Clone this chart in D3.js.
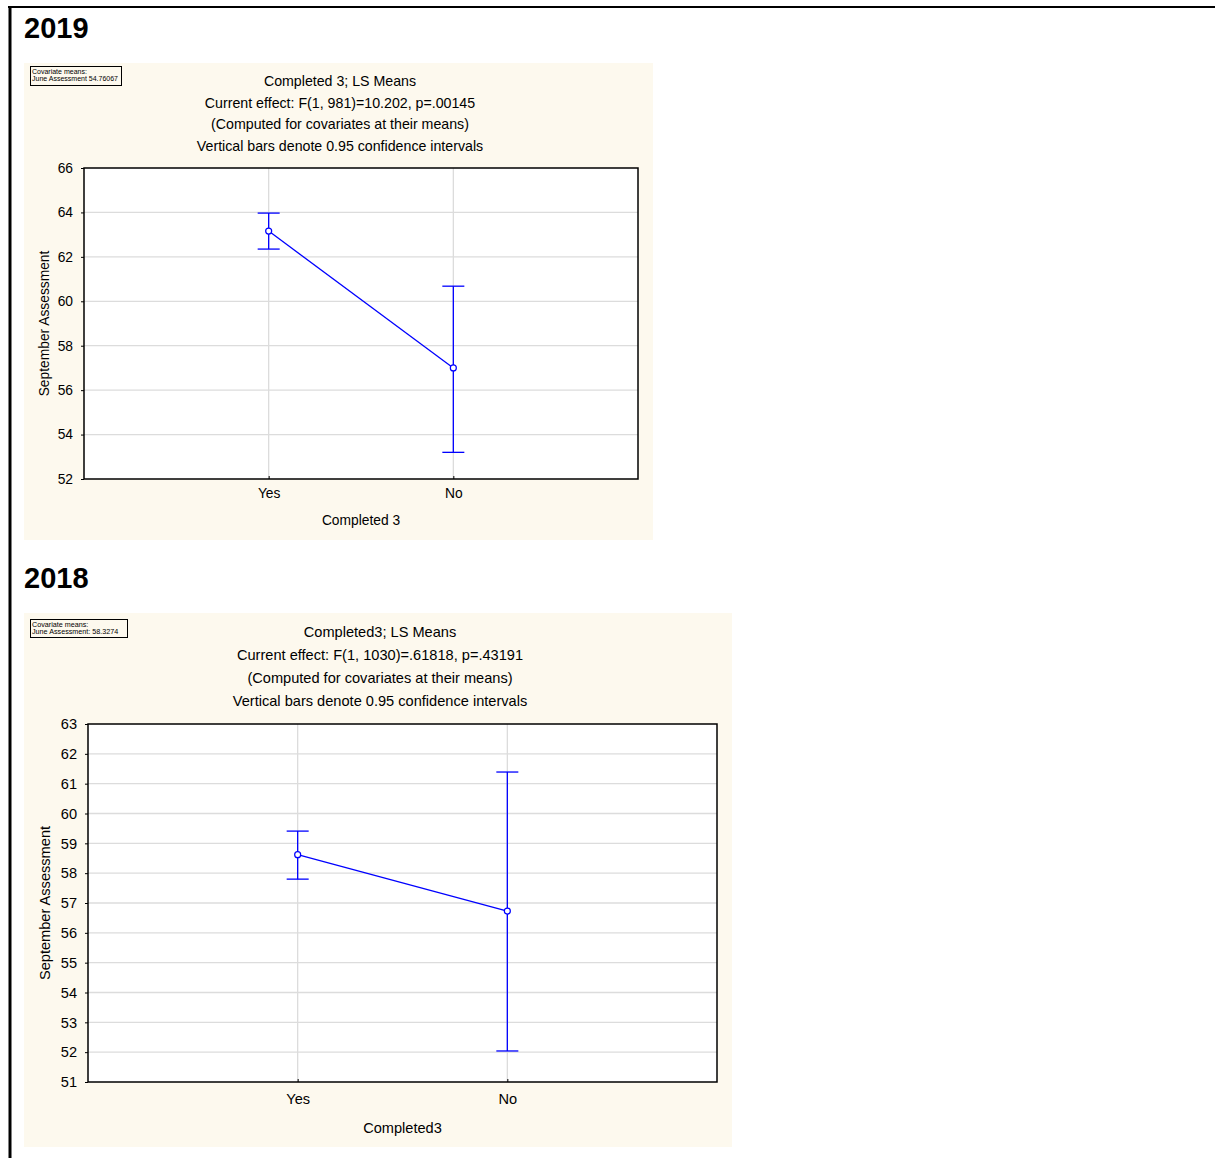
<!DOCTYPE html>
<html>
<head>
<meta charset="utf-8">
<script src="https://cdn.jsdelivr.net/npm/d3@7"></script>
<style>
  body { margin: 0; background: #fff; }
  svg { display: block; font-family: "Liberation Sans", Arial, sans-serif; }
</style>
</head>
<body>
<div id="chart-area"></div>
<script>
// categories shared by both panels
let categories = ["Yes", "No"];

// 2019 LS means and 0.95 CI
let means2019 = [63.16, 57.0];
let lower2019 = [62.35, 53.2];
let upper2019 = [63.97, 60.68];
let yTicks2019 = [52, 54, 56, 58, 60, 62, 64, 66];
let titles2019 = ["Completed 3; LS Means",
    "Current effect: F(1, 981)=10.202, p=.00145",
    "(Computed for covariates at their means)",
    "Vertical bars denote 0.95 confidence intervals"];
let covariate2019 = ["Covariate means:", "June Assessment 54.76067"];

// 2018 LS means and 0.95 CI
let means2018 = [58.62, 56.73];
let lower2018 = [57.8, 52.04];
let upper2018 = [59.41, 61.39];
let yTicks2018 = [51, 52, 53, 54, 55, 56, 57, 58, 59, 60, 61, 62, 63];
let titles2018 = ["Completed3; LS Means",
    "Current effect: F(1, 1030)=.61818, p=.43191",
    "(Computed for covariates at their means)",
    "Vertical bars denote 0.95 confidence intervals"];
let covariate2018 = ["Covariate means:", "June Assessment:  58.3274"];

let svg = d3.select("#chart-area")
    .append("svg")
    .attr("width", 1215)
    .attr("height", 1158);

// page frame (top and left rules)
svg.append("line").attr("x1", 8).attr("x2", 1215).attr("y1", 7).attr("y2", 7)
    .attr("stroke", "#000").attr("stroke-width", 2);
svg.append("line").attr("x1", 10).attr("x2", 10).attr("y1", 6).attr("y2", 1158)
    .attr("stroke", "#000").attr("stroke-width", 3);

svg.append("text").attr("x", 24).attr("y", 38).text("2019")
    .attr("font-size", 29).attr("font-weight", "bold");
svg.append("text").attr("x", 24).attr("y", 588).text("2018")
    .attr("font-size", 29).attr("font-weight", "bold");

drawPanel({
    bg: [24, 63, 629, 477],
    cov: [30, 66, 91, 19], covFont: 7,
    plot: {left: 84, top: 168, width: 554, height: 311},
    titleX: 340, titleY: 81, titleStep: 21.7, titleFont: 14.2,
    tickFont: 13.8, xLabelY: 493, xTitleY: 520, xTitle: "Completed 3",
    yTitleX: 44,
    domain: [52, 66], ticks: yTicks2019,
    means: means2019, lower: lower2019, upper: upper2019,
    titles: titles2019, covariate: covariate2019
});

drawPanel({
    bg: [24, 613, 708, 534],
    cov: [30, 619, 97, 18], covFont: 7.2,
    plot: {left: 88, top: 724, width: 629, height: 358},
    titleX: 380, titleY: 632, titleStep: 23, titleFont: 14.6,
    tickFont: 14.6, xLabelY: 1099, xTitleY: 1128, xTitle: "Completed3",
    yTitleX: 45,
    domain: [51, 63], ticks: yTicks2018,
    means: means2018, lower: lower2018, upper: upper2018,
    titles: titles2018, covariate: covariate2018
});

function drawPanel(c) {
    let g = svg.append("g");

    g.append("rect")
        .attr("x", c.bg[0]).attr("y", c.bg[1])
        .attr("width", c.bg[2]).attr("height", c.bg[3])
        .attr("fill", "#fdf9ee");

    // covariate box
    g.append("rect")
        .attr("x", c.cov[0] + 0.5).attr("y", c.cov[1] + 0.5)
        .attr("width", c.cov[2]).attr("height", c.cov[3])
        .attr("fill", "#fdf9ee").attr("stroke", "#000").attr("stroke-width", 1);
    c.covariate.forEach((t, i) => {
        g.append("text")
            .attr("x", c.cov[0] + 2).attr("y", c.cov[1] + 7.5 + i * 7)
            .attr("font-size", c.covFont).text(t);
    });

    // titles
    c.titles.forEach((t, i) => {
        g.append("text")
            .attr("x", c.titleX).attr("y", c.titleY + i * c.titleStep)
            .attr("dy", "0.35em").attr("text-anchor", "middle")
            .attr("font-size", c.titleFont).text(t);
    });

    let p = c.plot;
    let plot = g.append("g").attr("transform", `translate(${p.left},${p.top})`);

    let x = d3.scalePoint().domain(categories).range([0, p.width]).padding(1);
    let y = d3.scaleLinear().domain(c.domain).range([p.height, 0]);

    plot.append("rect").attr("width", p.width).attr("height", p.height).attr("fill", "#fff");

    // grid
    plot.selectAll(".hgrid").data(c.ticks.slice(1, -1)).enter().append("line")
        .attr("x1", 0).attr("x2", p.width)
        .attr("y1", d => y(d)).attr("y2", d => y(d))
        .attr("stroke", "#dcdcdc").attr("stroke-width", 1.3);
    plot.selectAll(".vgrid").data(categories).enter().append("line")
        .attr("x1", d => x(d)).attr("x2", d => x(d))
        .attr("y1", 0).attr("y2", p.height)
        .attr("stroke", "#dcdcdc").attr("stroke-width", 1.3);

    // axes
    let yAxisCall = d3.axisLeft(y).tickValues(c.ticks).tickSize(3).tickPadding(8);
    let yAxisGroup = plot.append("g").call(yAxisCall);
    yAxisGroup.select(".domain").remove();
    yAxisGroup.selectAll("text").attr("font-size", c.tickFont).attr("fill", "#000")
        .attr("font-family", "Liberation Sans, Arial, sans-serif");

    let xAxisCall = d3.axisBottom(x).tickSize(3).tickPadding(8);
    let xAxisGroup = plot.append("g").attr("transform", `translate(0,${p.height})`).call(xAxisCall);
    xAxisGroup.select(".domain").remove();
    xAxisGroup.selectAll("line").attr("transform", "translate(0,-3)");
    xAxisGroup.selectAll("text").attr("font-size", c.tickFont).attr("fill", "#000")
        .attr("font-family", "Liberation Sans, Arial, sans-serif")
        .attr("y", c.xLabelY - p.top - p.height).attr("dy", "0.35em");

    plot.append("rect").attr("width", p.width).attr("height", p.height)
        .attr("fill", "none").attr("stroke", "#000").attr("stroke-width", 1.5);

    // axis titles
    g.append("text")
        .attr("x", p.left + p.width / 2).attr("y", c.xTitleY).attr("dy", "0.35em")
        .attr("text-anchor", "middle").attr("font-size", c.tickFont).text(c.xTitle);
    g.append("text")
        .attr("transform", `translate(${c.yTitleX},${p.top + p.height / 2}) rotate(-90)`)
        .attr("dy", "0.35em").attr("text-anchor", "middle")
        .attr("font-size", c.tickFont).text("September Assessment");

    // error bars
    let blue = "#0000ff";
    let capW = 11;
    categories.forEach((cat, i) => {
        let cx = x(cat);
        plot.append("line").attr("x1", cx).attr("x2", cx)
            .attr("y1", y(c.lower[i])).attr("y2", y(c.upper[i]))
            .attr("stroke", blue).attr("stroke-width", 1.3);
        [c.lower[i], c.upper[i]].forEach(v => {
            plot.append("line").attr("x1", cx - capW).attr("x2", cx + capW)
                .attr("y1", y(v)).attr("y2", y(v))
                .attr("stroke", blue).attr("stroke-width", 1.3);
        });
    });

    // mean line
    let line = d3.line().x((d, i) => x(categories[i])).y(d => y(d));
    plot.append("path").datum(c.means).attr("d", line)
        .attr("fill", "none").attr("stroke", blue).attr("stroke-width", 1.3);

    plot.selectAll(".pt").data(c.means).enter().append("circle")
        .attr("cx", (d, i) => x(categories[i])).attr("cy", d => y(d))
        .attr("r", 3).attr("fill", "#fff").attr("stroke", blue).attr("stroke-width", 1.2);
}
</script>
</body>
</html>
